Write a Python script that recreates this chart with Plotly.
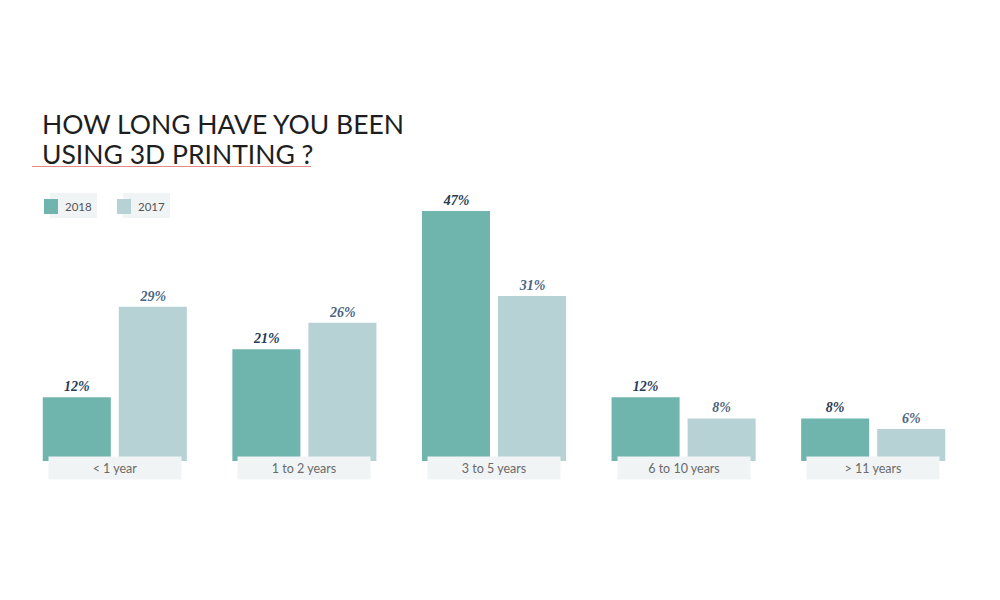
import plotly.graph_objects as go

categories = ["< 1 year", "1 to 2 years", "3 to 5 years", "6 to 10 years", "> 11 years"]
values_2018 = [12, 21, 47, 12, 8]
values_2017 = [29, 26, 31, 8, 6]
series_names = ["2018", "2017"]
title_lines = ["HOW LONG HAVE YOU BEEN", "USING 3D PRINTING ?"]
colors = ["#6fb5ad", "#b7d2d5"]
label_colors = ["#263b54", "#4b6482"]

W, H = 1000, 600
OFF = 8  # page body margin offset
ML, MR, MT, MB = 20 - OFF, 32 + OFF, 195 - OFF, 139 + OFF
PW, PH = W - ML - MR, H - MT - MB


def px(x):
    return (x - OFF - ML) / PW


def py(y):
    return 1 - (y - OFF - MT) / PH


fig = go.Figure()
for name, vals, col, lc in zip(series_names, [values_2018, values_2017], colors, label_colors):
    fig.add_trace(go.Bar(
        x=categories, y=vals, name=name,
        marker=dict(color=col, line=dict(width=0)),
        text=[f"{v}%" for v in vals],
        textposition="outside",
        textfont=dict(family="Liberation Serif", size=14, color=lc, weight="bold", style="italic"),
        cliponaxis=False,
        showlegend=False,
    ))

# category label boxes
for c in categories:
    fig.add_annotation(
        x=c, y=0, xref="x", yref="y", yanchor="top", yshift=5,
        text=c, showarrow=False, width=130, height=20,
        bgcolor="#f1f4f5", font=dict(family="Lato", size=12.5, color="#6a6a6a"),
    )

# title
for line, yc in zip(title_lines, [124.5, 154]):
    fig.add_annotation(
        x=px(41), y=py(yc), xref="paper", yref="paper", xanchor="left", yanchor="middle",
        text=line, showarrow=False, align="left", borderpad=0,
        font=dict(family="Lato", size=26.5, color="#1e1e1e"),
    )
fig.add_shape(type="line", xref="paper", yref="paper",
              x0=px(32), x1=px(311), y0=py(166.5), y1=py(166.5),
              line=dict(color="#e58a8a", width=1.2))

# legend (manual)
for i, (name, col) in enumerate(zip(series_names, colors)):
    dx = i * 73
    fig.add_shape(type="rect", xref="paper", yref="paper", layer="below",
                  x0=px(50 + dx), x1=px(97 + dx), y0=py(218), y1=py(193),
                  fillcolor="#f1f4f5", line=dict(width=0))
    fig.add_shape(type="rect", xref="paper", yref="paper",
                  x0=px(44 + dx), x1=px(58 + dx), y0=py(214), y1=py(199),
                  fillcolor=col, line=dict(width=0))
    fig.add_annotation(x=px(63 + dx), y=py(206.5), xref="paper", yref="paper",
                       xanchor="left", yanchor="middle", text=name, showarrow=False,
                       font=dict(family="Lato", size=11.5, color="#555555"))

fig.update_layout(
    width=W, height=H,
    margin=dict(l=ML, r=MR, t=MT, b=MB),
    paper_bgcolor="white", plot_bgcolor="white",
    barmode="group", bargap=0.198, bargroupgap=0.105,
    xaxis=dict(showticklabels=False, showgrid=False, zeroline=False, showline=False,
               range=[-0.5, 4.5]),
    yaxis=dict(range=[0, 50], showticklabels=False, showgrid=False, zeroline=False,
               showline=False),
)

fig.write_html("out.html")
